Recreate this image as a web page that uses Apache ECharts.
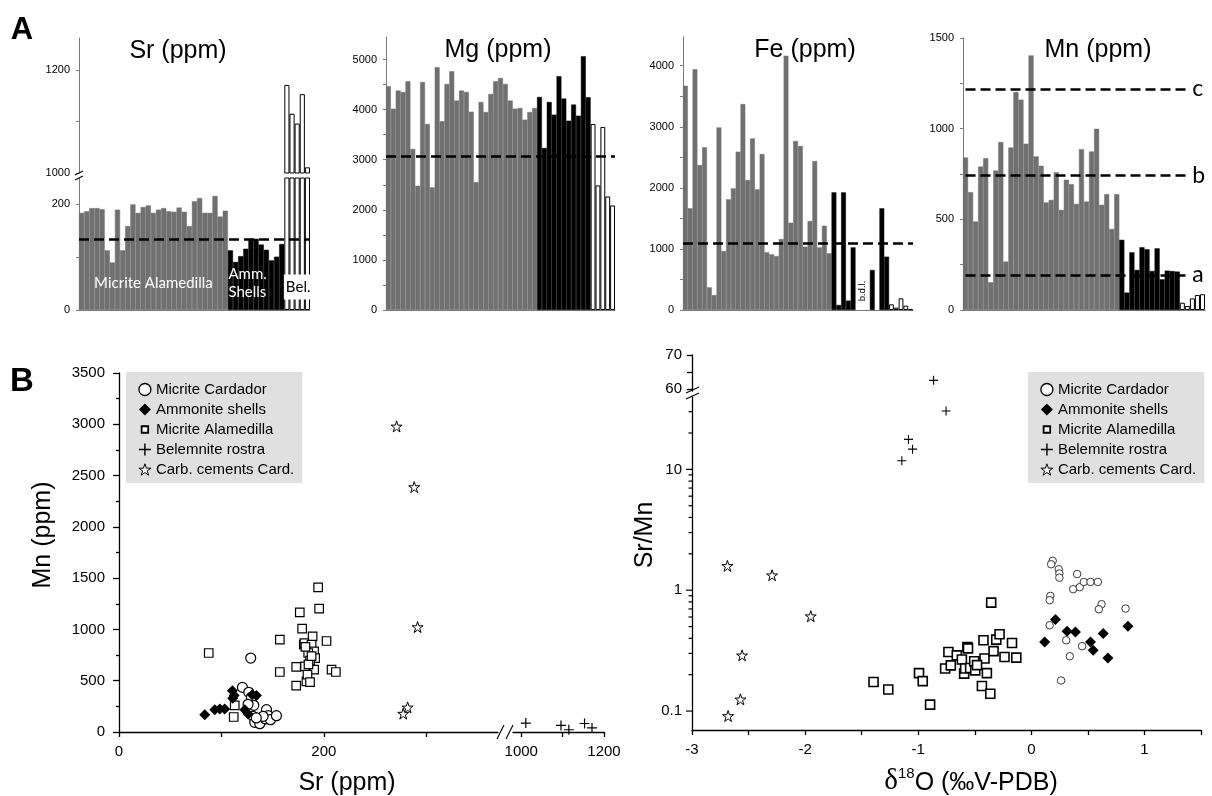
<!DOCTYPE html>
<html>
<head>
<meta charset="utf-8">
<script src="https://cdn.jsdelivr.net/npm/echarts@6/dist/echarts.min.js"></script>
<style>
html, body { margin: 0; padding: 0; background: #fff; }
#c { width: 1212px; height: 796px; }
</style>
</head>
<body>
<div id="c"></div>
<script>
// ---------- Panel A: element contents per sample (stratigraphic order) ----------
const srMicrite   = [184, 187, 193, 193, 191, 113, 90, 190, 113, 159, 200, 184, 195, 198, 184, 190, 193, 187, 186, 194, 186, 159, 206, 212, 184, 184, 216, 177, 188];
const srAmmonite  = [113, 91, 102, 116, 135, 135, 124, 114, 94, 101, 125];
const srBelemnite = [1171, 1115, 1096, 1153, 1011];

const mgMicrite   = [4467, 4020, 4380, 4353, 4567, 3213, 2480, 4553, 3713, 2447, 4847, 3767, 4513, 4767, 4180, 4380, 4353, 3960, 2553, 4153, 3953, 4313, 4567, 4633, 4513, 4180, 4020, 4033, 3800, 3953, 4033];
const mgAmmonite  = [4253, 3233, 4153, 3900, 4667, 4220, 3780, 4100, 3880, 5067, 4247];
const mgBelemnite = [3713, 2487, 3653, 2267, 2087];

const feMicrite   = [3672, 1665, 3940, 2374, 2663, 371, 245, 2990, 966, 1812, 1992, 2592, 3372, 2128, 2810, 1975, 2554, 944, 911, 884, 1162, 4163, 1429, 2767, 2685, 1036, 1457, 2439, 1025, 1380, 928];
const feAmmonite  = [1926, 82, 1926, 153, 1025, null, null, null, 655, null, 1665, 873]; // null = below detection limit
const feBelemnite = [93, 38, 191, 71, 12];

const mnMicrite   = [841, 650, 488, 791, 837, 153, 769, 926, 267, 896, 1202, 1160, 917, 1404, 847, 795, 593, 607, 760, 552, 718, 694, 585, 887, 598, 874, 999, 580, 639, 447, 639];
const mnAmmonite  = [387, 96, 318, 221, 346, 335, 215, 340, 169, 217, 215, 212];
const mnBelemnite = [40, 22, 64, 83, 87];

// reference levels
const srLevel = 134;
const mgLevel = 3067;
const feLevel = 1100;
const mnLevels = [['c', 1220], ['b', 742], ['a', 193]];

// tick values
const srLowTicks = [0, 100, 200], srLowLabels = [0, 200];
const srHighTicks = [1000, 1100, 1200], srHighLabels = [1000, 1200];
const mgTicks = [0, 500, 1000, 1500, 2000, 2500, 3000, 3500, 4000, 4500, 5000];
const mgLabels = [0, 1000, 2000, 3000, 4000, 5000];
const feTicks = [0, 500, 1000, 1500, 2000, 2500, 3000, 3500, 4000];
const feLabels = [0, 1000, 2000, 3000, 4000];
const mnTicks = [0, 250, 500, 750, 1000, 1250, 1500];
const mnLabels = [0, 500, 1000, 1500];

// ---------- Panel B: cross-plots ----------
// [Sr ppm, Mn ppm]
const crCardador = [[128.6, 721], [120.5, 435], [126.7, 387], [129.3, 338], [131.6, 260], [130.9, 153], [132.5, 94], [137.4, 81], [143, 127], [144, 218], [145.6, 159], [147.9, 120], [153.7, 159], [140.7, 153], [134, 137], [126, 270]];
const crAmmonite = [[83.7, 169], [93.5, 218], [98.4, 224], [103.2, 224], [110.7, 403], [112.4, 357], [122.8, 218], [130, 364], [134.2, 357], [111, 330], [126, 175]];
const crAlamedilla = [[87.6, 770], [113, 260], [112, 146], [157, 900], [157, 585], [173, 452], [173, 634], [176.5, 1166], [178.8, 1007], [180.4, 851], [183, 494], [194.4, 1410], [195.4, 1202], [189, 932], [202.6, 887], [181, 867], [188, 851], [190.5, 786], [184.7, 770], [191.5, 721], [186.5, 695], [181.6, 640], [190.5, 608], [184, 559], [186.5, 487], [207.5, 608], [211.7, 585], [185, 660], [188, 740], [182, 830]];
const crCements = [[271, 2979], [288.2, 2388], [291.5, 1023], [281.8, 240], [277.5, 179]];

// [d18O permil V-PDB, Sr/Mn]
const isoCardador = [[0.189, 1.75], [0.175, 1.64], [0.242, 1.49], [0.248, 1.375], [0.248, 1.27], [0.405, 1.36], [0.37, 1.02], [0.428, 1.06], [0.464, 1.17], [0.523, 1.17], [0.588, 1.17], [0.168, 0.897], [0.162, 0.826], [0.621, 0.766], [0.597, 0.696], [0.833, 0.705], [0.162, 0.513], [0.308, 0.385], [0.449, 0.344], [0.34, 0.284], [0.263, 0.179]];
const isoAmmonite = [[0.213, 0.571], [0.118, 0.373], [0.316, 0.457], [0.39, 0.452], [0.523, 0.373], [0.547, 0.318], [0.636, 0.438], [0.677, 0.275], [0.854, 0.503]];
const isoAlamedilla = [[-1.395, 0.174], [-1.265, 0.151], [-0.993, 0.206], [-0.96, 0.177], [-0.895, 0.113], [-0.762, 0.225], [-0.712, 0.239], [-0.733, 0.308], [-0.659, 0.289], [-0.614, 0.267], [-0.565, 0.339], [-0.594, 0.204], [-0.585, 0.225], [-0.541, 0.227], [-0.505, 0.258], [-0.496, 0.217], [-0.423, 0.385], [-0.414, 0.272], [-0.437, 0.161], [-0.393, 0.206], [-0.363, 0.139], [-0.355, 0.79], [-0.334, 0.313], [-0.31, 0.39], [-0.281, 0.432], [-0.237, 0.28], [-0.171, 0.366], [-0.133, 0.277], [-0.56, 0.33], [-0.48, 0.24]];
const isoBelemnite = [[-0.864, 62.6], [-0.754, 30.4], [-1.086, 17.7], [-1.05, 14.7], [-1.145, 11.8]];
const isoCements = [[-2.687, 1.59], [-2.292, 1.33], [-1.95, 0.609], [-2.557, 0.289], [-2.572, 0.125], [-2.681, 0.091]];

const srAxisLowTicks = [0, 100, 200, 300], srAxisLowLabels = [0, 200];
const srAxisHighTicks = [1000, 1100, 1200], srAxisHighLabels = [1000, 1200];
const mnAxisTicks = [0, 500, 1000, 1500, 2000, 2500, 3000, 3500];
const d18oTicks = [-3, -2.5, -2, -1.5, -1, -0.5, 0, 0.5, 1, 1.5];
const d18oLabels = [-3, -2, -1, 0, 1];
const ratioLabels = [0.1, 1, 10];
const ratioMinorTicks = [0.2, 0.3, 0.4, 0.5, 0.6, 0.7, 0.8, 0.9, 2, 3, 4, 5, 6, 7, 8, 9, 20, 30];
const ratioHighTicks = [60, 65, 70], ratioHighLabels = [60, 70];

const NAMES = ['Micrite Cardador', 'Ammonite shells', 'Micrite Alamedilla', 'Belemnite rostra', 'Carb. cements Card.'];

// ---------- styling ----------
const FONT = '"Liberation Sans", Arial, sans-serif';
const HUM = 'Lato, "Open Sans", sans-serif';
const GRAY = '#707070';
const AXG = '#7a7a7a';
const AXB = { color: '#000', width: 1.3 };
const plain = v => String(v);
const PLUS = 'path://M4.4,0 L5.6,0 L5.6,4.4 L10,4.4 L10,5.6 L5.6,5.6 L5.6,10 L4.4,10 L4.4,5.6 L0,5.6 L0,4.4 L4.4,4.4 Z';
const STAR = 'path://M50,2 L61.8,37.6 L99,37.6 L68.9,59.6 L80.3,95 L50,73 L19.7,95 L31.1,59.6 L1,37.6 L38.2,37.6 Z';
const SMALLSQ = 'path://M0,0 M2.5,2.5 L8.5,2.5 L8.5,8.5 L2.5,8.5 Z M11,11';

const grids = [
  { left: 79,  top: 38,  width: 231, height: 135 },  // 0 Sr upper
  { left: 79,  top: 178, width: 231, height: 132 },  // 1 Sr lower
  { left: 386, top: 37,  width: 229, height: 273 },  // 2 Mg
  { left: 683, top: 37,  width: 230, height: 273 },  // 3 Fe
  { left: 963, top: 38,  width: 242, height: 272 },  // 4 Mn
  { left: 119, top: 373, width: 379, height: 359 },  // 5 Sr-Mn, low Sr
  { left: 513, top: 373, width: 91,  height: 359 },  // 6 Sr-Mn, high Sr
  { left: 692, top: 355, width: 509, height: 36 },   // 7 Sr/Mn upper
  { left: 692, top: 397, width: 509, height: 333 }   // 8 Sr/Mn lower (log)
].map(g => Object.assign({ outerBoundsMode: 'none', containLabel: false }, g));

function sampleIds(n) { return Array.from({ length: n }, (_, i) => 'S' + (i + 1)); }
function spread(groups) {
  const total = groups.reduce((s, g) => s + g.length, 0);
  let off = 0;
  return groups.map(g => {
    const arr = new Array(total).fill('-');
    g.forEach((v, i) => { arr[off + i] = (v == null ? '-' : v); });
    off += g.length;
    return arr;
  });
}

const srCats = sampleIds(srMicrite.length + srAmmonite.length + srBelemnite.length);
const mgCats = sampleIds(mgMicrite.length + mgAmmonite.length + mgBelemnite.length);
const feCats = sampleIds(feMicrite.length + feAmmonite.length + feBelemnite.length);
const mnCats = sampleIds(mnMicrite.length + mnAmmonite.length + mnBelemnite.length);

function catAxis(gi, data, showLine) {
  return { type: 'category', gridIndex: gi, data, boundaryGap: true,
    axisLine: { show: showLine, onZero: false, lineStyle: { color: AXG, width: 1 } },
    axisTick: { show: false }, axisLabel: { show: false }, splitLine: { show: false } };
}
function valAxisA(gi, min, max, ticks, labels) {
  return { type: 'value', gridIndex: gi, min, max, position: 'left',
    axisLine: { show: true, onZero: false, lineStyle: { color: AXG, width: 1 } },
    axisTick: { show: true, length: 3, customValues: ticks, lineStyle: { color: AXG } },
    axisLabel: { show: true, customValues: labels, formatter: plain, fontSize: 11, fontFamily: FONT, color: '#000', margin: 9 },
    splitLine: { show: false } };
}

const sMic = { color: GRAY, borderColor: GRAY, borderWidth: 0.5, opacity: 1 };
const sAmm = { color: '#000', borderColor: '#000', borderWidth: 0.5, opacity: 1 };
const sBel = { color: '#fff', borderColor: '#000', borderWidth: 1, opacity: 1 };
function bars(name, data, ai, style, extra) {
  return Object.assign({ type: 'bar', name, data, xAxisIndex: ai, yAxisIndex: ai,
    barWidth: '100%', barGap: '-100%', itemStyle: style, silent: true, animation: false }, extra || {});
}
const DASH = { color: '#000', width: 2.5, type: [10, 5], opacity: 1 };
function level(v) {
  return { markLine: { symbol: 'none', silent: true, animation: false, label: { show: false },
    lineStyle: DASH, data: [{ yAxis: v }] } };
}

const [srA, srB, srC] = spread([srMicrite, srAmmonite, srBelemnite]);
const [mgA, mgB, mgC] = spread([mgMicrite, mgAmmonite, mgBelemnite]);
const [feA, feB, feC] = spread([feMicrite, feAmmonite, feBelemnite]);
const [mnA, mnB, mnC] = spread([mnMicrite, mnAmmonite, mnBelemnite]);

const mnLineEnd = mnCats.length - 4;
const mnMark = { markLine: { symbol: 'none', silent: true, animation: false, lineStyle: DASH,
  data: mnLevels.map(([lab, v]) => [
    { coord: [0, v], label: { show: true, position: 'end', formatter: lab, distance: 5,
      fontSize: 23, fontFamily: HUM, color: '#000' } },
    { coord: [mnLineEnd, v] }
  ]) } };

const isoHigh = isoBelemnite.filter(p => p[1] > 45);
const isoLow = isoBelemnite.filter(p => p[1] <= 45);
const belPairs = srBelemnite.map((s, i) => [s, mnBelemnite[i]]);

function scatter(name, data, ai, symbol, size, style) {
  return { type: 'scatter', name, data, xAxisIndex: ai, yAxisIndex: ai, symbol, symbolSize: size,
    itemStyle: Object.assign({ opacity: 1 }, style), silent: true, animation: false };
}
const open = (w, c) => ({ color: '#fff', borderColor: c || '#000', borderWidth: w, opacity: 1 });
const solid = { color: '#000', borderWidth: 0, opacity: 1 };

// tick marks of the logarithmic Sr/Mn axis, drawn as short dashes on its left edge
function logTickMarks(values, len) {
  return { type: 'scatter', name: 'log ticks', xAxisIndex: 8, yAxisIndex: 8, clip: false, silent: true,
    animation: false, symbol: 'rect', symbolSize: [len, 1.2], symbolOffset: [-len / 2, 0],
    itemStyle: { color: '#000', opacity: 1 }, data: values.map(v => [-3, v]) };
}

const legendItems = [
  { name: NAMES[0], icon: 'circle', itemStyle: open(1.3) },
  { name: NAMES[1], icon: 'diamond', itemStyle: solid },
  { name: NAMES[2], icon: SMALLSQ, itemStyle: open(1.8) },
  { name: NAMES[3], icon: PLUS, itemStyle: solid },
  { name: NAMES[4], icon: STAR, itemStyle: open(1) }
];
function legendAt(left, top) {
  return { left, top, orient: 'vertical', data: legendItems, selectedMode: false,
    backgroundColor: '#e0e0e0', padding: [10, 8, 6, 12], itemGap: 5, itemWidth: 12, itemHeight: 12,
    textStyle: { fontSize: 15, fontFamily: FONT, color: '#000' } };
}

const option = {
  animation: false,
  backgroundColor: '#fff',
  grid: grids,
  legend: [legendAt(126, 372), legendAt(1028, 372)],
  xAxis: [
    catAxis(0, srCats, false),
    catAxis(1, srCats, true),
    catAxis(2, mgCats, true),
    catAxis(3, feCats, true),
    catAxis(4, mnCats, true),
    { type: 'value', gridIndex: 5, min: 0, max: 370, position: 'bottom',
      axisLine: { lineStyle: AXB, onZero: false }, axisTick: { customValues: srAxisLowTicks, length: 5, lineStyle: AXB },
      axisLabel: { customValues: srAxisLowLabels, formatter: plain, fontSize: 15, fontFamily: FONT, color: '#000', margin: 12 }, splitLine: { show: false } },
    { type: 'value', gridIndex: 6, min: 980, max: 1200, position: 'bottom',
      axisLine: { lineStyle: AXB, onZero: false }, axisTick: { customValues: srAxisHighTicks, length: 5, lineStyle: AXB },
      axisLabel: { customValues: srAxisHighLabels, formatter: plain, fontSize: 15, fontFamily: FONT, color: '#000', margin: 12 }, splitLine: { show: false } },
    { type: 'value', gridIndex: 7, min: -3, max: 1.5, show: false },
    { type: 'value', gridIndex: 8, min: -3, max: 1.5, position: 'bottom',
      axisLine: { lineStyle: AXB, onZero: false }, axisTick: { customValues: d18oTicks, length: 5, lineStyle: AXB },
      axisLabel: { customValues: d18oLabels, formatter: plain, fontSize: 15, fontFamily: FONT, color: '#000', margin: 12 }, splitLine: { show: false } }
  ],
  yAxis: [
    valAxisA(0, 1000, 1262, srHighTicks, srHighLabels),
    valAxisA(1, 0, 250, srLowTicks, srLowLabels),
    valAxisA(2, 0, 5450, mgTicks, mgLabels),
    valAxisA(3, 0, 4470, feTicks, feLabels),
    valAxisA(4, 0, 1500, mnTicks, mnLabels),
    { type: 'value', gridIndex: 5, min: 0, max: 3500, interval: 500, position: 'left',
      axisLine: { show: true, lineStyle: AXB, onZero: false }, axisTick: { show: true, length: 6, lineStyle: AXB },
      minorTick: { show: true, splitNumber: 2, length: 3, lineStyle: AXB },
      axisLabel: { customValues: mnAxisTicks, formatter: plain, fontSize: 15, fontFamily: FONT, color: '#000', margin: 14 }, splitLine: { show: false } },
    { type: 'value', gridIndex: 6, min: 0, max: 3500, show: false },
    { type: 'value', gridIndex: 7, min: 59.5, max: 70, position: 'left',
      axisLine: { show: true, lineStyle: AXB, onZero: false }, axisTick: { show: true, customValues: ratioHighTicks, length: 5, lineStyle: AXB },
      axisLabel: { customValues: ratioHighLabels, formatter: plain, fontSize: 15, fontFamily: FONT, color: '#000', margin: 10 }, splitLine: { show: false } },
    { type: 'log', logBase: 10, gridIndex: 8, min: 0.0697, max: 39.7, position: 'left',
      axisLine: { show: true, lineStyle: AXB, onZero: false }, axisTick: { show: false },
      axisLabel: { customValues: ratioLabels, formatter: plain, fontSize: 15, fontFamily: FONT, color: '#000', margin: 10 }, splitLine: { show: false } }
  ],
  series: [
    // Sr
    bars('Sr Belemnite upper', srC, 0, sBel),
    bars('Sr Micrite', srA, 1, sMic),
    bars('Sr Ammonite', srB, 1, sAmm),
    bars('Sr Belemnite', srC, 1, sBel, level(srLevel)),
    // Mg
    bars('Mg Micrite', mgA, 2, sMic),
    bars('Mg Ammonite', mgB, 2, sAmm),
    bars('Mg Belemnite', mgC, 2, sBel, level(mgLevel)),
    // Fe
    bars('Fe Micrite', feA, 3, sMic),
    bars('Fe Ammonite', feB, 3, sAmm),
    bars('Fe Belemnite', feC, 3, sBel, level(feLevel)),
    // Mn
    bars('Mn Micrite', mnA, 4, sMic),
    bars('Mn Ammonite', mnB, 4, sAmm),
    bars('Mn Belemnite', mnC, 4, sBel, mnMark),
    // Sr vs Mn
    scatter(NAMES[2], crAlamedilla, 5, 'rect', 8.5, open(1.2)),
    scatter(NAMES[0], crCardador, 5, 'circle', 10, open(1.2)),
    scatter(NAMES[1], crAmmonite, 5, 'diamond', 11, solid),
    scatter(NAMES[4], crCements, 5, STAR, 11, open(1)),
    scatter(NAMES[3], belPairs, 6, PLUS, 10, solid),
    // d18O vs Sr/Mn
    scatter(NAMES[2], isoAlamedilla, 8, 'rect', 9, open(1.6)),
    scatter(NAMES[0], isoCardador, 8, 'circle', 7.5, open(0.9, '#222')),
    scatter(NAMES[1], isoAmmonite, 8, 'diamond', 11, solid),
    scatter(NAMES[4], isoCements, 8, STAR, 11, open(1)),
    scatter(NAMES[3], isoLow, 8, PLUS, 9, solid),
    scatter(NAMES[3], isoHigh, 7, PLUS, 9, solid),
    logTickMarks(ratioLabels, 6),
    logTickMarks(ratioMinorTicks, 3.5)
  ]
};

const chart = echarts.init(document.getElementById('c'), null, { renderer: 'canvas' });
chart.setOption(option);

// ---------- annotations ----------
function txt(x, y, text, font, style, el) {
  return Object.assign({ type: 'text', x, y, silent: true, z: 100,
    style: Object.assign({ text, font, fill: '#000', align: 'center', verticalAlign: 'middle',
      textAlign: 'center', textVerticalAlign: 'middle' }, style || {}) }, el || {});
}
function seg(x1, y1, x2, y2, w) {
  return { type: 'line', silent: true, z: 100, shape: { x1, y1, x2, y2 }, style: { stroke: '#000', lineWidth: w || 1.1 } };
}
function px(ai, x, y) { return chart.convertToPixel({ xAxisIndex: ai, yAxisIndex: ai }, [x, y]); }

const bdlIndex = feMicrite.length + 6;
const bdlPt = px(3, bdlIndex, 0);
const belStart = px(1, srMicrite.length + srAmmonite.length, 0);
const belEnd = px(1, srCats.length - 1, 0);
const micStart = px(1, 0, 0);
const micEnd = px(1, srMicrite.length - 1, 0);
const ammStart = px(1, srMicrite.length, 0);

const g = [
  txt(22, 30, 'A', 'bold 31px ' + FONT),
  txt(22, 382, 'B', 'bold 33px ' + FONT),
  txt(178, 51, 'Sr (ppm)', '25px ' + FONT),
  txt(498, 50, 'Mg (ppm)', '25px ' + FONT),
  txt(805, 50, 'Fe (ppm)', '25px ' + FONT),
  txt(1098, 50, 'Mn (ppm)', '25px ' + FONT),
  txt((micStart[0] + micEnd[0]) / 2, 283, 'Micrite Alamedilla', '15px ' + HUM, { fill: '#fff' }),
  txt(ammStart[0] - 2, 274, 'Amm.', '15px ' + HUM, { fill: '#fff', align: 'left', textAlign: 'left' }),
  txt(ammStart[0] - 2, 292, 'Shells', '15px ' + HUM, { fill: '#fff', align: 'left', textAlign: 'left' }),
  txt((belStart[0] + belEnd[0]) / 2 + 1, 287, 'Bel.', '15px ' + HUM,
    { backgroundColor: '#fff', padding: [5, 2, 5, 2] }),
  txt(bdlPt[0], 291, 'b.d.l.', '9.5px ' + FONT, {}, { rotation: Math.PI / 2 }),
  txt(43, 535, 'Mn (ppm)', '25px ' + FONT, {}, { rotation: Math.PI / 2 }),
  txt(347, 783, 'Sr (ppm)', '25px ' + FONT),
  txt(645, 535, 'Sr/Mn', '25px ' + FONT, {}, { rotation: Math.PI / 2 }),
  txt(971, 781, '{d|δ}{s|18}{o|O (‰V-PDB)}', '25px ' + FONT, {
    rich: {
      d: { fontSize: 29, fontFamily: '"Liberation Serif", serif', verticalAlign: 'bottom' },
      s: { fontSize: 15, fontFamily: FONT, verticalAlign: 'top' },
      o: { fontSize: 25, fontFamily: FONT, verticalAlign: 'bottom' }
    }
  }),
  // axis breaks
  seg(75, 175, 83, 171), seg(75, 180, 83, 176),
  seg(497, 739, 504, 725), seg(506, 739, 513, 725),
  seg(686, 393, 699, 387), seg(686, 399, 699, 393)
];
chart.setOption({ graphic: g });
</script>
</body>
</html>
